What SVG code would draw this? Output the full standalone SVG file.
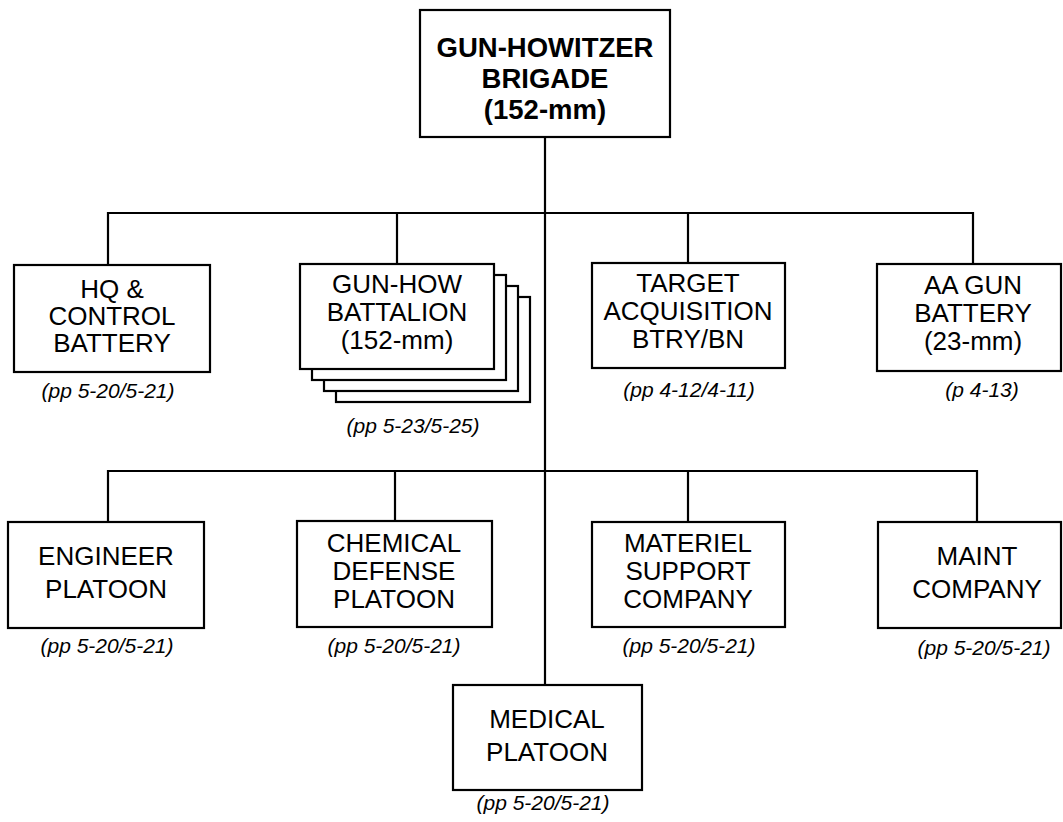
<svg xmlns="http://www.w3.org/2000/svg" width="1063" height="822" viewBox="0 0 1063 822">
<style>
.box{fill:#fff;stroke:#000;stroke-width:2.2}
.ln{fill:none;stroke:#000;stroke-width:2.2}
.t{font-family:"Liberation Sans",Arial,sans-serif;font-size:26px;text-anchor:middle;fill:#000}
.tb{font-family:"Liberation Sans",Arial,sans-serif;font-size:27.5px;font-weight:bold;text-anchor:middle;fill:#000}
.lb{font-family:"Liberation Sans",Arial,sans-serif;font-size:21px;font-style:italic;text-anchor:middle;fill:#000}
</style>
<rect width="1063" height="822" fill="#fff"/>
<g id="connectors">
<path class="ln" d="M545,137 V685"/>
<path class="ln" d="M108,265 V213 H973 V264"/>
<path class="ln" d="M397,213 V264"/>
<path class="ln" d="M688,213 V263"/>
<path class="ln" d="M108,522 V471 H977 V522"/>
<path class="ln" d="M395,471 V521"/>
<path class="ln" d="M688,471 V522"/>
</g>
<g id="brigade">
<rect class="box" x="420" y="10" width="250" height="127"/>
<text class="tb" x="545" y="57">GUN-HOWITZER</text>
<text class="tb" x="545" y="88">BRIGADE</text>
<text class="tb" x="545" y="119">(152-mm)</text>
</g>
<g id="hq">
<rect class="box" x="14" y="265" width="196" height="107"/>
<text class="t" x="112" y="298">HQ &amp;</text>
<text class="t" x="112" y="325">CONTROL</text>
<text class="t" x="112" y="352">BATTERY</text>
<text class="lb" x="108" y="398">(pp 5-20/5-21)</text>
</g>
<g id="gunhow">
<rect class="box" x="336" y="297" width="194" height="105"/>
<rect class="box" x="324" y="286" width="194" height="105"/>
<rect class="box" x="312" y="275" width="194" height="105"/>
<rect class="box" x="300" y="264" width="194" height="105"/>
<text class="t" x="397" y="293">GUN-HOW</text>
<text class="t" x="397" y="321">BATTALION</text>
<text class="t" x="397" y="349">(152-mm)</text>
<text class="lb" x="413" y="433">(pp 5-23/5-25)</text>
</g>
<g id="target">
<rect class="box" x="592" y="263" width="193" height="105"/>
<text class="t" x="688" y="292">TARGET</text>
<text class="t" x="688" y="320">ACQUISITION</text>
<text class="t" x="688" y="348">BTRY/BN</text>
<text class="lb" x="689" y="397">(pp 4-12/4-11)</text>
</g>
<g id="aagun">
<rect class="box" x="877" y="264" width="184" height="107"/>
<text class="t" x="973" y="294">AA GUN</text>
<text class="t" x="973" y="322">BATTERY</text>
<text class="t" x="973" y="350">(23-mm)</text>
<text class="lb" x="982" y="397">(p 4-13)</text>
</g>
<g id="engineer">
<rect class="box" x="8" y="522" width="196" height="106"/>
<text class="t" x="106" y="565">ENGINEER</text>
<text class="t" x="106" y="598">PLATOON</text>
<text class="lb" x="107" y="653">(pp 5-20/5-21)</text>
</g>
<g id="chemical">
<rect class="box" x="297" y="521" width="195" height="106"/>
<text class="t" x="394" y="552">CHEMICAL</text>
<text class="t" x="394" y="580">DEFENSE</text>
<text class="t" x="394" y="608">PLATOON</text>
<text class="lb" x="394" y="653">(pp 5-20/5-21)</text>
</g>
<g id="materiel">
<rect class="box" x="592" y="522" width="193" height="105"/>
<text class="t" x="688" y="552">MATERIEL</text>
<text class="t" x="688" y="580">SUPPORT</text>
<text class="t" x="688" y="608">COMPANY</text>
<text class="lb" x="689" y="653">(pp 5-20/5-21)</text>
</g>
<g id="maint">
<rect class="box" x="878" y="522" width="183" height="106"/>
<text class="t" x="977" y="565">MAINT</text>
<text class="t" x="977" y="598">COMPANY</text>
<text class="lb" x="984" y="655">(pp 5-20/5-21)</text>
</g>
<g id="medical">
<rect class="box" x="453" y="685" width="189" height="105"/>
<text class="t" x="547" y="728">MEDICAL</text>
<text class="t" x="547" y="761">PLATOON</text>
<text class="lb" x="543" y="810">(pp 5-20/5-21)</text>
</g>
</svg>
